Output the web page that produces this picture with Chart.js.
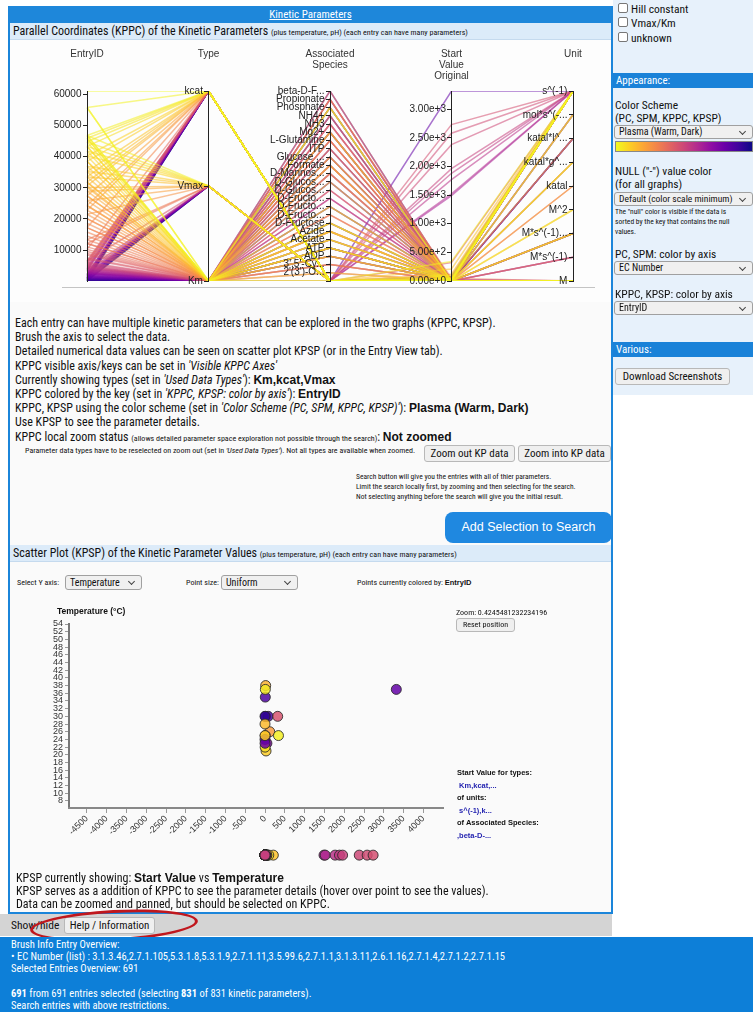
<!DOCTYPE html>
<html>
<head>
<meta charset="utf-8">
<title>Kinetic Parameters</title>
<script src="https://cdn.jsdelivr.net/npm/chart.js@4.4.1/dist/chart.umd.min.js"></script>
<style>
  * { box-sizing: border-box; }
  body { margin: 0; width: 753px; height: 1012px; position: relative; overflow: hidden; background: #fff; color: #111;
         font-family: "Liberation Sans Narrow", "Arial Narrow", "Roboto Condensed", sans-serif; }
  .a { position: absolute; white-space: nowrap; }
  .b { font-family: "Liberation Sans", Arial, sans-serif; font-weight: bold; }
  .panel { left: 8px; top: 6px; width: 605px; height: 908px; border: 2px solid #1b85da; background: #fafafa; }
  .hdr { left: 10px; top: 6px; width: 601px; height: 17px; background: #1e87da; color: #fff; font-size: 11px; line-height: 17px; text-align: center; }
  .hdr span { text-decoration: underline; }
  .bar { left: 10px; width: 601px; height: 17px; background: #dcebf9; font-size: 12px; line-height: 17px; padding-left: 3px; border-bottom: 1px solid #c5daee; }
  .bar small { font-size: 8px; }
  .btn { background: #efefef; border: 1px solid #b8b8b8; border-radius: 3px; text-align: center; color: #111; }
  .sel { background: #f0f0f0; border: 1px solid #a0a0a0; border-radius: 3px; padding-left: 4px; color: #111; }
  .sel::after { content: ''; position: absolute; right: 7px; top: 3px; width: 4px; height: 4px;
                border-right: 1px solid #444; border-bottom: 1px solid #444; transform: rotate(45deg); }
  .txt { left: 15px; top: 316px; font-size: 12px; line-height: 14.2px; }
  .txt i { font-style: italic; }
  .side { left: 613px; top: 0; width: 140px; height: 395px; background: #e7f1fb; }
  .sbar { left: 613px; width: 140px; height: 15px; background: #1a82d8; color: #fff; font-size: 11px; line-height: 15px; padding-left: 3px; }
  .chk { width: 10px; height: 10px; border: 1px solid #777; background: #fff; border-radius: 2px; }
  .blue { left: 0; top: 937px; width: 753px; height: 75px; background: #0d7fd8; color: #fff; font-size: 10.5px; line-height: 12.2px; padding: 2px 0 0 11px; }
</style>
</head>
<body>

<!-- painel principal -->
<div class="a panel"></div>
<div class="a hdr"><span>Kinetic Parameters</span></div>
<div class="a bar" style="top:23px">Parallel Coordinates (KPPC) of the Kinetic Parameters <small>(plus temperature, pH) (each entry can have many parameters)</small></div>

<div class="a" style="left:10px; top:40px; width:601px; height:262px; background:#fdfdfd">
  <canvas id="kppc" width="601" height="262"></canvas>
</div>
<div class="a" style="left:62px; top:287px; width:533px; height:1px; background:#c4c4c4"></div>

<div class="a txt">
  Each entry can have multiple kinetic parameters that can be explored in the two graphs (KPPC, KPSP).<br>
  Brush the axis to select the data.<br>
  Detailed numerical data values can be seen on scatter plot KPSP (or in the Entry View tab).<br>
  KPPC visible axis/keys can be set in <i>'Visible KPPC Axes'</i><br>
  Currently showing types (set in <i>'Used Data Types'</i>): <span class="b">Km,kcat,Vmax</span><br>
  KPPC colored by the key (set in <i>'KPPC, KPSP: color by axis'</i>): <span class="b">EntryID</span><br>
  KPPC, KPSP using the color scheme (set in <i>'Color Scheme (PC, SPM, KPPC, KPSP)'</i>): <span class="b">Plasma (Warm, Dark)</span><br>
  Use KPSP to see the parameter details.<br>
  KPPC local zoom status <span style="font-size:8px">(allows detailed parameter space exploration not possible through the search)</span>: <span class="b">Not zoomed</span>
</div>
<div class="a" style="left:25px; top:446px; font-size:8px">Parameter data types have to be reselected on zoom out (set in <i>'Used Data Types'</i>). Not all types are available when zoomed.</div>
<div class="a btn" style="left:424px; top:445px; width:91px; height:17px; font-size:11px; line-height:15px">Zoom out KP data</div>
<div class="a btn" style="left:518px; top:445px; width:93px; height:17px; font-size:11px; line-height:15px">Zoom into KP data</div>
<div class="a" style="left:356px; top:472px; font-size:7.5px; line-height:10px">
  Search button will give you the entries with all of thier parameters.<br>
  Limit the search locally first, by zooming and then selecting for the search.<br>
  Not selecting anything before the search will give you the initial result.
</div>
<div class="a" style="left:445px; top:512px; width:167px; height:31px; background:#1f88e0; border-radius:8px; color:#fff;
     font-family:'Liberation Sans', Arial, sans-serif; font-size:12.5px; line-height:31px; text-align:center">Add Selection to Search</div>

<!-- scatter -->
<div class="a bar" style="top:545px">Scatter Plot (KPSP) of the Kinetic Parameter Values <small>(plus temperature, pH) (each entry can have many parameters)</small></div>
<div class="a" style="left:17px; top:578px; font-size:8px">Select Y axis:</div>
<div class="a sel" style="left:65px; top:575px; width:77px; height:15px; font-size:10px; line-height:13px">Temperature</div>
<div class="a" style="left:186px; top:578px; font-size:8px">Point size:</div>
<div class="a sel" style="left:221px; top:575px; width:77px; height:15px; font-size:10px; line-height:13px">Uniform</div>
<div class="a" style="left:357px; top:578px; font-size:8px">Points currently colored by: <span class="b" style="font-size:7.5px">EntryID</span></div>

<div class="a" style="left:10px; top:600px; width:601px; height:300px">
  <canvas id="kpsp" width="601" height="300"></canvas>
</div>
<div class="a b" style="left:57px; top:606px; font-size:8.5px">Temperature (°C)</div>
<div class="a" style="left:456px; top:608px; font-size:8px">Zoom: 0.4245481232234196</div>
<div class="a btn" style="left:456px; top:618px; width:59px; height:14px; font-size:8px; line-height:12px">Reset position</div>
<div class="a" style="left:457px; top:767px; font-size:8px; line-height:12.5px">
  <span class="b" style="font-size:7.5px">Start Value for types:</span><br>
  <span class="b" style="font-size:7.5px; color:#2424b0">&nbsp;Km,kcat,...</span><br>
  <span class="b" style="font-size:7.5px">of units:</span><br>
  <span class="b" style="font-size:7.5px; color:#2424b0">&nbsp;s^(-1),k...</span><br>
  <span class="b" style="font-size:7.5px">of Associated Species:</span><br>
  <span class="b" style="font-size:7.5px; color:#2424b0">,beta-D-...</span>
</div>

<div class="a" style="left:16px; top:872px; font-size:12px; line-height:13.2px">
  KPSP currently showing: <span class="b">Start Value</span> vs <span class="b">Temperature</span><br>
  KPSP serves as a addition of KPPC to see the parameter details (hover over point to see the values).<br>
  Data can be zoomed and panned, but should be selected on KPPC.
</div>

<!-- show/hide -->
<div class="a" style="left:0; top:914px; width:612px; height:22px; background:#d4d4d4"></div>
<div class="a" style="left:11px; top:918px; font-size:11.5px">Show/hide</div>
<div class="a btn" style="left:64px; top:917px; width:91px; height:17px; font-size:11px; line-height:15px">Help / Information</div>
<div class="a" style="left:30px; top:910px; width:168px; height:31px; border:3px solid #c0171d; border-radius:50%; transform:rotate(-3deg)"></div>

<div class="a blue">
  Brush Info Entry Overview:<br>
  &bull; EC Number (list) : 3.1.3.46,2.7.1.105,5.3.1.8,5.3.1.9,2.7.1.11,3.5.99.6,2.7.1.1,3.1.3.11,2.6.1.16,2.7.1.4,2.7.1.2,2.7.1.15<br>
  Selected Entries Overview: 691<br>
  <br>
  <b>691</b> from 691 entries selected (selecting <b>831</b> of 831 kinetic parameters).<br>
  Search entries with above restrictions.
</div>

<!-- barra lateral -->
<div class="a side"></div>
<div class="a chk" style="left:618px; top:3px"></div><div class="a" style="left:631px; top:2px; font-size:11.5px">Hill constant</div>
<div class="a chk" style="left:618px; top:17px"></div><div class="a" style="left:631px; top:16px; font-size:11.5px">Vmax/Km</div>
<div class="a chk" style="left:618px; top:32px"></div><div class="a" style="left:631px; top:31px; font-size:11.5px">unknown</div>
<div class="a sbar" style="top:73px">Appearance:</div>
<div class="a" style="left:615px; top:99px; font-size:11.5px; line-height:13px">Color Scheme<br>(PC, SPM, KPPC, KPSP)</div>
<div class="a sel" style="left:614px; top:125px; width:139px; height:14px; font-size:10px; line-height:12px">Plasma (Warm, Dark)</div>
<div class="a" style="left:615px; top:141px; width:138px; height:11px; border:1px solid #888;
     background:linear-gradient(to right,#f0f921,#fcce25,#fca636,#f2844b,#e16462,#cc4778,#b12a90,#8f0da4,#6a00a8,#41049d,#0d0887)"></div>
<div class="a" style="left:615px; top:165px; font-size:11.5px; line-height:13px">NULL ("-") value color<br>(for all graphs)</div>
<div class="a sel" style="left:614px; top:192px; width:139px; height:14px; font-size:9.5px; line-height:12px">Default (color scale minimum)</div>
<div class="a" style="left:615px; top:207px; font-size:7.5px; line-height:10px">The "null" color is visible if the data is<br>sorted by the key that contains the null<br>values.</div>
<div class="a" style="left:615px; top:247px; font-size:11.5px">PC, SPM: color by axis</div>
<div class="a sel" style="left:614px; top:261px; width:139px; height:14px; font-size:10px; line-height:12px">EC Number</div>
<div class="a" style="left:615px; top:287px; font-size:11.5px">KPPC, KPSP: color by axis</div>
<div class="a sel" style="left:614px; top:301px; width:139px; height:14px; font-size:10px; line-height:12px">EntryID</div>
<div class="a sbar" style="top:342px">Various:</div>
<div class="a btn" style="left:615px; top:368px; width:115px; height:17px; font-size:11px; line-height:15px">Download Screenshots</div>

<script>
// ===== DADOS =====
const axisTitles   = [['EntryID'], ['Type'], ['Associated', 'Species'], ['Start', 'Value', 'Original'], ['Unit']];
const typeNames    = ['kcat', 'Vmax', 'Km'];
const speciesNames = ['beta-D-Fructose 2,6-bisphosphate', 'Propionate', 'Phosphate', 'NH4+', 'NH3', 'Mg2+', 'L-Glutamine', 'ITP',
                      'Glucose 6-phosphate', 'Formate', 'D-Mannose 6-phosphate', 'D-Glucose 6-phosphate', 'D-Glucosamine 6-phosphate',
                      'D-Fructose 1,6-bisphosphate', 'D-Fructose 6-phosphate', 'D-Fructose 1-phosphate', 'D-Fructose', 'Azide',
                      'Acetate', 'ATP', 'ADP', "3',5'-Cyclic AMP", "2'(3')-O-Anthraniloyl-ATP", ''];
const unitNames    = ['s^(-1)', 'mol*s^(-1)*g^(-1)', 'katal*l^(-1)', 'katal*g^(-1)', 'katal', 'M^2', 'M*s^(-1)*mg^(-1)', 'M*s^(-1)', 'M'];
const entryTicks   = [10000, 20000, 30000, 40000, 50000, 60000];
const startTicks   = [0, 500, 1000, 1500, 2000, 2500, 3000];

// kcat (sem espécie associada, unidade s^(-1))
const kcatIds    = [40, 900, 1900, 1100, 720, 560, 3250, 3600, 3950, 4300, 4700, 5300, 5700, 6100, 10200, 6500,
                    17200, 22800, 24300, 27400, 30600, 31800, 33500, 35200, 38500, 40200, 43300, 44800, 45900, 46800, 55800, 61100,
                    210, 990, 1450, 2050];
const kcatValues = [0, 11, 48, 3316, 7.4, 80, 1490, 1520, 1770, 1880, 1960, 2380, 2580, 2730, 16, 320,
                    4.4, 9.3, 120, 1.8, 17, 62, 5.1, 210, 26, 55, 3.2, 95, 8.5, 340, 42, 14,
                    2.2, 36, 0.45, 13];
const kcatTemps  = [null, 30, 23, 37, 35, 30, null, null, null, null, null, null, null, null, null, 30,
                    null, null, 26, null, 38, null, 25, null, 21, null, 22, null, 37, 25, null, null,
                    null, null, null, null];

// Vmax (sem espécie associada)
const vmaxIds    = [480, 1100, 1600, 2200, 3800, 6500, 12100, 13300, 21500, 25900, 28900, 30100, 33500, 35200, 36900, 40200, 41800, 43300, 44800, 46800,
                    60, 270, 810, 1230, 1720, 2350, 2950];
const vmaxValues = [0.004, 0.15, 0.11, 6.5, 0.9, 0.03, 2.6, 0.05, 4.2, 0.02, 0.5, 0.25, 12, 0.08, 1.2, 1.5, 0.35, 0.6, 3.4, 0.7,
                    0.012, 0.0031, 0.21, 0.046, 1.8, 0.0075, 0.33];
const vmaxUnits  = ['M*s^(-1)*mg^(-1)', 'katal*l^(-1)', 'katal*l^(-1)', 'mol*s^(-1)*g^(-1)', 'M*s^(-1)', 'M*s^(-1)*mg^(-1)', 'katal',
                    'M*s^(-1)', 'M*s^(-1)*mg^(-1)', 'katal', 'M^2', 'katal*g^(-1)', 'katal*l^(-1)', 'katal*g^(-1)', 'mol*s^(-1)*g^(-1)',
                    'M*s^(-1)*mg^(-1)', 'M*s^(-1)*mg^(-1)', 'mol*s^(-1)*g^(-1)', 'katal*g^(-1)', 'M^2',
                    'M*s^(-1)*mg^(-1)', 'katal*l^(-1)', 'mol*s^(-1)*g^(-1)', 'M*s^(-1)*mg^(-1)', 'katal*g^(-1)', 'M*s^(-1)', 'katal*l^(-1)'];

// Km (unidade M)
const kmIds = [40, 150, 320, 480, 650, 900, 1100, 1350, 1600, 1900, 2200, 2500, 2500, 2800, 3100, 3400, 3800, 4100, 4500, 4900,
               5300, 5700, 6100, 7000, 7400, 8400, 8900, 9500, 10200, 11000, 12100, 13300, 15800, 17200, 18600, 20100, 21500, 22800,
               24300, 25900, 27400, 28900, 30100, 31800, 33500, 36900, 38500, 40200, 41800, 43300, 44800, 45900, 46800, 55800,
               12100, 14500, 17200, 20100, 24300, 27400, 30600, 31800, 35200, 38500, 43300, 45900, 46800, 55800,
               60, 210, 270, 390, 560, 720, 810, 990, 1230, 1450, 1720, 2050, 2350, 2650, 2950, 3250, 3600, 3950, 4300, 4700];
const kmSpecies = ['ATP', 'ATP', 'ADP', 'Mg2+', 'beta-D-Fructose 2,6-bisphosphate', 'D-Fructose', 'Phosphate', 'NH4+', 'Glucose 6-phosphate',
                   'ITP', 'D-Glucose 6-phosphate', 'Acetate', '', 'Propionate', 'NH3', 'L-Glutamine', 'Formate', 'D-Mannose 6-phosphate',
                   'Azide', 'D-Fructose 1,6-bisphosphate', "3',5'-Cyclic AMP", "2'(3')-O-Anthraniloyl-ATP", 'ATP', 'D-Fructose 6-phosphate',
                   'D-Glucosamine 6-phosphate', 'D-Fructose 1-phosphate', 'Phosphate', 'Mg2+', 'beta-D-Fructose 2,6-bisphosphate', 'ADP',
                   'Propionate', 'ATP', 'Acetate', 'NH4+', 'D-Fructose', 'Azide', 'Glucose 6-phosphate', 'L-Glutamine', 'ITP', 'Formate',
                   "3',5'-Cyclic AMP", 'D-Mannose 6-phosphate', 'ADP', 'ATP', 'Mg2+', "2'(3')-O-Anthraniloyl-ATP", 'D-Fructose', 'Acetate',
                   'Azide', 'Phosphate', 'D-Glucose 6-phosphate', '', 'ATP', '',
                   'L-Glutamine', 'NH3', 'D-Fructose 1-phosphate', 'Propionate', 'Mg2+', 'ATP', 'Glucose 6-phosphate', 'Formate', 'ADP',
                   'Azide', 'D-Fructose 6-phosphate', 'Acetate', 'Phosphate', 'D-Fructose',
                   'Phosphate', 'ATP', 'D-Fructose 6-phosphate', 'Mg2+', 'ADP', 'Glucose 6-phosphate', 'NH4+', 'D-Fructose', 'Acetate',
                   'Propionate', 'D-Glucose 6-phosphate', 'ITP', 'Azide', 'D-Mannose 6-phosphate', 'Formate', 'D-Fructose 1,6-bisphosphate',
                   'L-Glutamine', "3',5'-Cyclic AMP", 'NH3', 'D-Glucosamine 6-phosphate'];
const kmValues  = [0.0021, 0.05, 0.12, 1.1, 0.004, 0.3, 2.5, 0.8, 0.06, 0.45, 0.009, 12, 0.34, 3.6, 25, 0.7, 5.2, 0.018, 1.9, 0.2,
                   0.011, 0.025, 0.34, 0.9, 0.15, 4.1, 0.5, 0.066, 2.2, 0.09, 45, 0.27, 7.8, 0.013, 1.6, 0.4, 0.085, 3.3,
                   0.19, 0.6, 0.032, 1.4, 0.22, 0.55, 2.8, 0.07, 9.5, 0.31, 1.05, 0.16, 0.048, 0.9, 0.026, 0.12,
                   0.38, 1.2, 0.015, 6.1, 0.24, 0.52, 0.073, 2.1, 0.29, 0.6, 0.044, 3.7, 0.18, 1.3,
                   0.21, 0.033, 1.7, 0.0082, 0.56, 2.9, 0.14, 0.067, 5.5, 0.42, 0.019, 1.15, 0.26, 0.088, 3.9, 0.0045, 0.63, 0.17, 8.2, 0.075];
const kmTemps   = [null, null, 30, null, 24, null, null, 23, null, null,
                   null, null, null, null, null, null, null, null, null, null,
                   null, null, null, null, null, null, null, null, null, null,
                   null, null, null, null, null, null, null, null, null, null,
                   null, null, null, 28, null, 25, null, null, null, null,
                   null, null, null, null,
                   null, null, null, null, null, null, null, null, null, null, null, null, null, null,
                   null, null, null, null, null, null, null, null, null, null, null, null, null, null, null, null, null, null, null, null];

// scatter (janela de zoom atual)
const tempTicks      = [8, 10, 12, 14, 16, 18, 20, 22, 24, 26, 28, 30, 32, 34, 36, 38, 40, 42, 44, 46, 48, 50, 52, 54];
const scatterXTicks  = [-4500, -4000, -3500, -3000, -2500, -2000, -1500, -1000, -500, 0, 500, 1000, 1500, 2000, 2500, 3000, 3500, 4000];
const scatterXView   = [-4950, 4495];
const scatterYView   = [6.1, 54];
const missingTempRow = 0;   // faixa de temperatura nula


// ===== REGISTROS =====
const registros = [];
kcatIds.forEach((id, i) => registros.push({ id, tipo: 'kcat', especie: '', valor: kcatValues[i], unidade: 's^(-1)', temp: kcatTemps[i] }));
vmaxIds.forEach((id, i) => registros.push({ id, tipo: 'Vmax', especie: '', valor: vmaxValues[i], unidade: vmaxUnits[i], temp: null }));
kmIds.forEach((id, i)   => registros.push({ id, tipo: 'Km', especie: kmSpecies[i], valor: kmValues[i], unidade: 'M', temp: kmTemps[i] }));


// ===== CORES (plasma, por rank do EntryID) =====
const plasmaStops = ['#0d0887', '#41049d', '#6a00a8', '#8f0da4', '#b12a90', '#cc4778', '#e16462', '#f2844b', '#fca636', '#fcce25', '#f0f921'];
const hex = h => [1, 3, 5].map(k => parseInt(h.slice(k, k + 2), 16));

function plasma(t, a) {
  const p = Math.max(0, Math.min(1, t)) * 10;
  const i = Math.min(9, Math.floor(p));
  const f = p - i;
  const c0 = hex(plasmaStops[i]), c1 = hex(plasmaStops[i + 1]);
  const c = c0.map((v, k) => Math.round(v + (c1[k] - v) * f));
  return `rgba(${c[0]},${c[1]},${c[2]},${a})`;
}

const idsUnicos = [...new Set(registros.map(r => r.id))].sort((a, b) => a - b);
const rank = id => idsUnicos.indexOf(id) / (idsUnicos.length - 1);

const curto = s => s.length > 11 ? s.slice(0, 8) + '...' : s;


// ===== NORMALIZAÇÃO =====
const idMin  = Math.min(...registros.map(r => r.id));
const idMax  = Math.max(...registros.map(r => r.id));
const valMin = Math.min(...registros.map(r => r.valor));
const valMax = Math.max(...registros.map(r => r.valor));

const norm = {
  entry:   v => (v - idMin) / (idMax - idMin),
  tipo:    t => 1 - typeNames.indexOf(t) / (typeNames.length - 1),
  especie: s => 1 - speciesNames.indexOf(s) / (speciesNames.length - 1),
  valor:   v => (v - valMin) / (valMax - valMin),
  unidade: u => 1 - unitNames.indexOf(u) / (unitNames.length - 1)
};


// ===== KPPC =====
const fonteEixo = { family: 'Liberation Sans', size: 10 };

function eixoPC(idx, min, max, ticks, label, reverse) {
  return {
    type: 'linear', axis: 'y', position: { x: idx }, min, max, reverse: !!reverse,
    afterBuildTicks: s => { s.ticks = ticks.map(v => ({ value: v })); },
    ticks: { z: 1, autoSkip: false, color: '#222', font: fonteEixo, callback: v => label(v) + '  ' },
    grid: { z: 1, drawOnChartArea: false, tickLength: 4, color: '#222' },
    border: { z: 1, color: '#222', width: 1 }
  };
}

// Chart.js desenha o primeiro dataset por cima: IDs altos (amarelos) primeiro
const ordem = registros.slice().sort((a, b) => b.id - a.id);

new Chart(document.getElementById('kppc'), {
  type: 'line',
  data: {
    labels: axisTitles,
    datasets: ordem.map(r => ({
      data: [norm.entry(r.id), norm.tipo(r.tipo), norm.especie(r.especie), norm.valor(r.valor), norm.unidade(r.unidade)],
      yAxisID: 'yn',
      borderColor: plasma(rank(r.id), 0.55),
      borderWidth: 1.5,
      pointRadius: 0,
      tension: 0,
      fill: false
    }))
  },
  options: {
    responsive: false,
    animation: false,
    layout: { padding: { left: 77, right: 38, top: 9, bottom: 21 } },
    plugins: { legend: { display: false }, tooltip: { enabled: false } },
    scales: {
      x: {
        type: 'category', position: 'top', offset: false,
        afterFit: s => { s.height = 42; },
        grid: { display: false, drawTicks: false },
        border: { display: false },
        ticks: { padding: 9.5, crossAlign: 'far', maxRotation: 0, color: '#333',
                 font: { family: 'Liberation Sans', size: 10, lineHeight: 1.1 } }
      },
      yn: { type: 'linear', min: 0, max: 1, display: false },
      yEntry:   eixoPC(0, idMin, idMax, entryTicks, v => v),
      yType:    eixoPC(1, 0, typeNames.length - 1, typeNames.map((_, i) => i), v => typeNames[v], true),
      ySpecies: eixoPC(2, 0, speciesNames.length - 1, speciesNames.map((_, i) => i), v => curto(speciesNames[v]), true),
      yStart:   eixoPC(3, valMin, valMax, startTicks, v => v.toExponential(2)),
      yUnit:    eixoPC(4, 0, unitNames.length - 1, unitNames.map((_, i) => i), v => curto(unitNames[v]), true)
    }
  }
});


// ===== KPSP =====
const medidos = registros.filter(r => r.temp !== null);
const semTemp = registros.filter(r => r.temp === null);

const fonteScatter = { family: 'Liberation Sans', size: 9 };

new Chart(document.getElementById('kpsp'), {
  type: 'scatter',
  data: {
    datasets: [
      {
        data: medidos.map(r => ({ x: r.valor, y: r.temp })),
        yAxisID: 'y',
        backgroundColor: medidos.map(r => plasma(rank(r.id), 0.85)),
        borderColor: 'rgba(40,40,40,0.85)', borderWidth: 1, pointRadius: 5
      },
      {
        data: semTemp.map(r => ({ x: r.valor, y: missingTempRow })),
        yAxisID: 'yNull',
        backgroundColor: semTemp.map(r => plasma(rank(r.id), 0.85)),
        borderColor: 'rgba(40,40,40,0.85)', borderWidth: 1, pointRadius: 5
      }
    ]
  },
  options: {
    responsive: false,
    animation: false,
    layout: { padding: { left: 29, right: 168, top: 24, bottom: 2 } },
    plugins: { legend: { display: false }, tooltip: { enabled: false } },
    scales: {
      // faixa das temperaturas nulas (abaixo do eixo x); no empilhamento à esquerda a ordem é invertida
      yNull: {
        type: 'linear', position: 'left', stack: 'kpsp', stackWeight: 86, min: -0.8, max: 1,
        afterFit: s => { s.width = 30; },
        ticks: { display: false },
        grid: { display: false, drawTicks: false },
        border: { display: false }
      },
      y: {
        type: 'linear', position: 'left', stack: 'kpsp', stackWeight: 188,
        min: scatterYView[0], max: scatterYView[1],
        afterBuildTicks: s => { s.ticks = tempTicks.map(v => ({ value: v })); },
        afterFit: s => { s.width = 30; },
        ticks: { autoSkip: false, padding: 2, color: '#333', font: fonteScatter },
        grid: { drawOnChartArea: false, tickLength: 4, color: '#9a9a9a' },
        border: { color: '#777', width: 2 }
      },
      x: {
        type: 'linear', position: { y: scatterYView[0] }, min: scatterXView[0], max: scatterXView[1],
        afterBuildTicks: s => { s.ticks = scatterXTicks.map(v => ({ value: v })); },
        ticks: { autoSkip: false, minRotation: 45, maxRotation: 45, padding: 1, color: '#333', font: fonteScatter,
                 callback: v => String(v) },
        grid: { drawOnChartArea: false, tickLength: 4, color: '#9a9a9a' },
        border: { color: '#888', width: 2 }
      }
    }
  }
});
</script>
</body>
</html>
